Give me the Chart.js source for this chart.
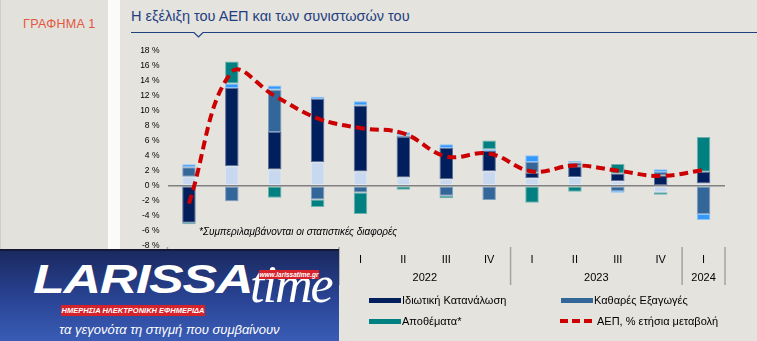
<!DOCTYPE html>
<html>
<head>
<meta charset="utf-8">
<script src="https://cdn.jsdelivr.net/npm/chart.js@4.4.1/dist/chart.umd.min.js"></script>
<style>
  html, body { margin: 0; padding: 0; }
  body { font-family: "Liberation Sans", Arial, sans-serif; }
  #wrap { position: relative; width: 757px; height: 341px; background: #e4e3de; overflow: hidden; }
  #side { position: absolute; left: 0; top: 0; width: 108px; height: 341px; background: #e2e1dc; border-left: 1px solid #cfcec9; box-sizing: border-box; }
  #side span { position: absolute; left: 22px; top: 17px; font-size: 12.5px; color: #e3573f; letter-spacing: 0.3px; }
  #strip { position: absolute; left: 108px; top: 0; width: 12px; height: 341px; background: #fbfbfa; }
  #title { position: absolute; left: 131px; top: 8px; font-size: 14.5px; color: #1f3f80; white-space: nowrap; }
  #rule { position: absolute; left: 0; top: 0; }
  #c { position: absolute; left: 0; top: 0; }
  #note { position: absolute; left: 199px; top: 226px; font-size: 10px; font-style: italic; color: #000; white-space: nowrap; }
  .lg { position: absolute; font-size: 11px; color: #000; white-space: nowrap; line-height: 12px; }
  .sw { position: absolute; width: 32px; height: 5px; }
  #logo { position: absolute; left: 0; top: 249px; width: 339px; height: 92px;
          background: linear-gradient(#1a2960, #2a4596 55%, #3a5cb5); border-top: 2px solid #141a36; box-sizing: border-box; }
  #logo .big { position: absolute; left: 33px; top: 6px; font: italic 900 40px "Liberation Sans", Arial, sans-serif; color: #fff;
               transform: scaleX(1.3); transform-origin: left top; letter-spacing: -1px; }
  #logo .time { position: absolute; left: 250px; top: 4px; font: italic 52px "Liberation Serif", "DejaVu Serif", serif; color: #fff; letter-spacing: -2px; }
  #logo .web { position: absolute; left: 259px; top: 19px; width: 60px; height: 9px; background: #d6232b;
               font: italic bold 6.5px "Liberation Sans", Arial, sans-serif; color: #fff; text-align: center; line-height: 9px; }
  #logo .tag { position: absolute; left: 61px; top: 54px; width: 144px; height: 11px; background: #d6232b;
               font: italic bold 7.5px "Liberation Sans", Arial, sans-serif; color: #fff; text-align: center; line-height: 11px; }
  #logo .motto { position: absolute; left: 0; width: 339px; top: 71px; text-align: center;
                 font: italic 13px "Liberation Sans", Arial, sans-serif; color: #fff; }
</style>
</head>
<body>
<div id="wrap">
  <div id="side"><span>ΓΡΑΦΗΜΑ 1</span></div>
  <div id="strip"></div>
  <div id="title">Η εξέλιξη του ΑΕΠ και των συνιστωσών του</div>
  <svg id="rule" width="757" height="40">
    <polyline points="131,32.5 194,32.5 198.5,37 203,32.5 757,32.5" fill="none" stroke="#1f4180" stroke-width="1.2"/>
  </svg>
  <canvas id="c" width="757" height="341"></canvas>
  <div id="note">*Συμπεριλαμβάνονται οι στατιστικές διαφορές</div>
  <div id="legend"></div>
  <div id="logo">
    <div class="big">LARISSA</div>
    <div class="time">time</div>
    <div class="web">www.larissatime.gr</div>
    <div class="tag">ΗΜΕΡΗΣΙΑ ΗΛΕΚΤΡΟΝΙΚΗ ΕΦΗΜΕΡΙΔΑ</div>
    <div class="motto">τα γεγονότα τη στιγμή που συμβαίνουν</div>
  </div>
</div>
<script>
// quarters 2021 Q1 .. 2024 Q1
const quarters = ['I', 'II', 'III', 'IV', 'I', 'II', 'III', 'IV', 'I', 'II', 'III', 'IV', 'I'];
const years = ['2021', '2022', '2023', '2024'];
const yearSpans = [4, 4, 4, 1];

// contributions to GDP growth, percentage points
const publicCons  = [1.2, 2.6, 2.16, 3.13, 1.89, 1.09, 0.87, 1.93, 1.0, 1.17, 0.6, -0.87, 0.3];
const privateCons = [-4.95, 10.44, 5.01, 8.44, 8.84, 5.4, 4.17, 2.71, 0.71, 1.43, 1.02, 1.36, 1.55];
const netExports  = [1.25, -2.07, 5.66, -1.84, -0.91, 0.2, -1.36, -1.93, 1.46, 0.49, -0.73, 0.48, -3.8];
const investment  = [0.4, 0.63, 0.57, 0.32, 0.54, 0.45, 0.49, 0.23, 0.9, 0.22, -0.23, 0.36, -0.8];
const inventories = [-0.2, 2.93, -1.63, -1.03, -2.89, -0.55, -0.31, 1.16, -2.29, -0.83, 1.29, -0.35, 4.67];
// GDP, % y/y
const gdp = [-2.4, 15.2, 12.0, 9.0, 7.7, 7.0, 3.9, 4.3, 1.9, 2.7, 2.0, 1.3, 2.1];

const yMin = -8, yMax = 18, yStep = 2;

const series = [
  { label: 'Δημόσια Κατανάλωση', data: publicCons, color: '#c7d8ef', edge: '#dde7f5' },
  { label: 'Ιδιωτική Κατανάλωση', data: privateCons, color: '#001f5c', edge: '#5a6f9a' },
  { label: 'Καθαρές Εξαγωγές', data: netExports, color: '#336699', edge: '#7f9fc0' },
  { label: 'Επενδύσεις', data: investment, color: '#3399ff', edge: '#8cc2f5' },
  { label: 'Αποθέματα*', data: inventories, color: '#008080', edge: '#6fb3b0' }
];
const gdpLabel = 'ΑΕΠ, % ετήσια μεταβολή';

Chart.defaults.font.family = '"Liberation Sans", Arial, sans-serif';

// year captions and group separators under the quarter labels
const yearGroups = {
  id: 'yearGroups',
  afterDraw(chart) {
    const { ctx } = chart;
    const x = chart.scales.x;
    const half = (x.getPixelForValue(1) - x.getPixelForValue(0)) / 2;
    const edges = [];
    let start = 0;
    ctx.save();
    ctx.font = '11px "Liberation Sans", Arial, sans-serif';
    ctx.fillStyle = '#000';
    ctx.textAlign = 'center';
    ctx.textBaseline = 'middle';
    years.forEach((yr, i) => {
      const end = start + yearSpans[i] - 1;
      const l = x.getPixelForValue(start) - half;
      const r = x.getPixelForValue(end) + half;
      ctx.fillText(yr, (l + r) / 2, x.top + 32.5);
      edges.push(l);
      if (i === years.length - 1) edges.push(r);
      start = end + 1;
    });
    ctx.strokeStyle = '#a3a3a3';
    ctx.lineWidth = 1.5;
    edges.forEach(e => {
      ctx.beginPath();
      ctx.moveTo(e, x.top + 1.5);
      ctx.lineTo(e, x.top + 39.5);
      ctx.stroke();
    });
    ctx.restore();
  }
};

const datasets = series.map(s => ({
  type: 'bar',
  label: s.label,
  data: s.data,
  backgroundColor: s.color,
  borderColor: s.edge,
  borderWidth: 1,
  borderSkipped: false,
  stack: 'parts',
  order: 1,
  barPercentage: 0.315,
  categoryPercentage: 1
}));
datasets.push({
  type: 'line',
  label: gdpLabel,
  data: gdp,
  borderColor: '#cc0000',
  borderWidth: 4,
  borderDash: [9, 5],
  tension: 0.4,
  pointRadius: 0,
  fill: false,
  stack: 'gdp',
  order: 0
});

new Chart(document.getElementById('c'), {
  data: { labels: quarters, datasets },
  options: {
    responsive: false,
    animation: false,
    layout: { padding: { left: 120, right: 32, top: 51, bottom: 55.5 } },
    plugins: { legend: { display: false }, tooltip: { enabled: false } },
    scales: {
      x: {
        stacked: true,
        afterFit(scale) { scale.height = 40; },
        grid: { display: false, drawTicks: false },
        border: { display: false },
        ticks: { color: '#000', font: { size: 11 }, padding: 8, maxRotation: 0, autoSkip: false }
      },
      y: {
        stacked: true,
        min: yMin,
        max: yMax,
        afterFit(scale) { scale.width = 47.5; },
        grid: {
          drawTicks: false,
          lineWidth: 1.5,
          color: c => (c.tick && c.tick.value === 0 ? '#808080' : 'rgba(0,0,0,0)')
        },
        border: { display: false },
        ticks: {
          stepSize: yStep,
          padding: 8,
          color: '#000',
          font: { size: 8.5 },
          callback: v => v + ' %'
        }
      }
    }
  },
  plugins: [yearGroups]
});

// legend in three columns, two rows
const legendItems = [
  { text: series[0].label, color: series[0].color, x: 178, y: 300.5 },
  { text: series[3].label, color: series[3].color, x: 178, y: 321 },
  { text: series[1].label, color: series[1].color, x: 369, y: 300.5 },
  { text: series[4].label, color: series[4].color, x: 369, y: 321 },
  { text: series[2].label, color: series[2].color, x: 561, y: 300.5 },
  { text: gdpLabel, dashed: true, x: 560, y: 321 }
];
const legend = document.getElementById('legend');
legendItems.forEach(it => {
  if (it.dashed) {
    const svg = document.createElementNS('http://www.w3.org/2000/svg', 'svg');
    svg.setAttribute('width', '34');
    svg.setAttribute('height', '6');
    svg.style.cssText = `position:absolute;left:${it.x}px;top:${it.y - 3}px`;
    svg.innerHTML = '<line x1="0" y1="3" x2="34" y2="3" stroke="#cc0000" stroke-width="4" stroke-dasharray="8,4"/>';
    legend.appendChild(svg);
  } else {
    const sw = document.createElement('div');
    sw.className = 'sw';
    sw.style.cssText = `left:${it.x}px;top:${it.y - 2.5}px;background:${it.color}`;
    legend.appendChild(sw);
  }
  const t = document.createElement('div');
  t.className = 'lg';
  t.textContent = it.text;
  t.style.left = (it.x + (it.dashed ? 37 : 33)) + 'px';
  t.style.top = (it.y - 6.5) + 'px';
  legend.appendChild(t);
});
</script>
</body>
</html>
